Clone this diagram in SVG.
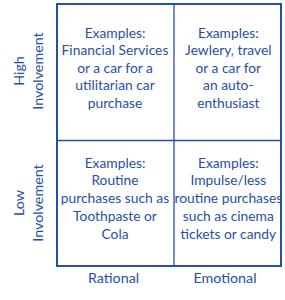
<svg xmlns="http://www.w3.org/2000/svg" width="285" height="300" viewBox="0 0 285 300">
<style>
text{font-family:Lato,"Open Sans",sans-serif;font-size:13.8px;fill:#2a4ea6;text-anchor:middle}
.ax{font-size:14.3px}
.grid{fill:none;stroke:#2350a8}
</style>
<rect width="285" height="300" fill="#fff"/>
<g id="connectors">
<rect class="grid" x="57" y="4" width="224" height="262" stroke-width="2"/>
<line class="grid" x1="174" y1="4" x2="174" y2="266" stroke-width="1.3"/>
<line class="grid" x1="57" y1="140.5" x2="281" y2="140.5" stroke-width="1.3"/>
</g>
<g id="q-high-rational">
<text x="115" y="37.5">Examples:</text>
<text x="115" y="55">Financial Services</text>
<text x="115" y="72.5">or a car for a</text>
<text x="115" y="90">utilitarian car</text>
<text x="115" y="107.5">purchase</text>
</g>
<g id="q-high-emotional">
<text x="228.3" y="37.5">Examples:</text>
<text x="228.3" y="55">Jewlery, travel</text>
<text x="228.3" y="72.5">or a car for</text>
<text x="228.3" y="90">an auto-</text>
<text x="228.3" y="107.5">enthusiast</text>
</g>
<g id="q-low-rational">
<text x="115" y="167.5">Examples:</text>
<text x="115" y="185">Routine</text>
<text x="115" y="203">purchases such as</text>
<text x="115" y="221">Toothpaste or</text>
<text x="115" y="238.5">Cola</text>
</g>
<g id="q-low-emotional">
<text x="228.3" y="167.5">Examples:</text>
<text x="228.3" y="185">Impulse/less</text>
<text x="228.3" y="203">routine purchases</text>
<text x="228.3" y="221">such as cinema</text>
<text x="228.3" y="238.5">tickets or candy</text>
</g>
<g id="axis-high">
<text class="ax" transform="translate(24 71) rotate(-90)">High</text>
<text class="ax" transform="translate(42.5 71) rotate(-90)">Involvement</text>
</g>
<g id="axis-low">
<text class="ax" transform="translate(24 203) rotate(-90)">Low</text>
<text class="ax" transform="translate(42.5 203) rotate(-90)">Involvement</text>
</g>
<g id="axis-rational"><text class="ax" x="113.5" y="283">Rational</text></g>
<g id="axis-emotional"><text class="ax" x="225" y="283">Emotional</text></g>
</svg>
